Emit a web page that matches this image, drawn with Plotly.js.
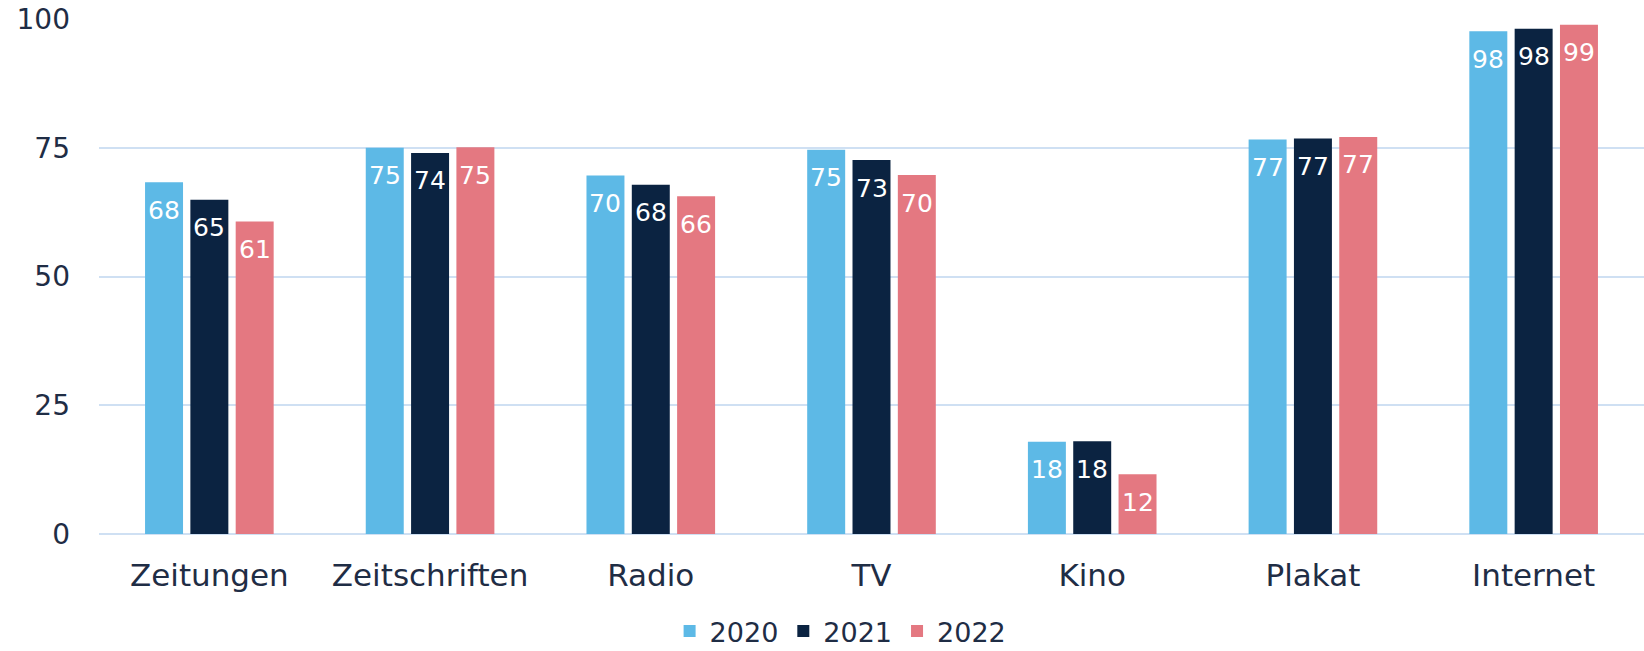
<!DOCTYPE html>
<html>
<head>
<meta charset="utf-8">
<script src="https://cdn.plot.ly/plotly-3.0.1.min.js"></script>
<style>
  html, body { margin: 0; padding: 0; background: #ffffff; }
  #chart { width: 1644px; height: 651px; }
</style>
</head>
<body>
<div id="chart"></div>
<script>
const categories = ["Zeitungen", "Zeitschriften", "Radio", "TV", "Kino", "Plakat", "Internet"];
const years = ["2020", "2021", "2022"];
const values2020 = [68.3, 75.0, 69.6, 74.6, 17.9, 76.6, 97.6];
const values2021 = [64.9, 74.0, 67.8, 72.6, 18.0, 76.8, 98.1];
const values2022 = [60.7, 75.1, 65.6, 69.7, 11.6, 77.1, 98.9];
const yTicks = [0, 25, 50, 75, 100];

const seriesValues = [values2020, values2021, values2022];
const colors = ["#5db9e6", "#0b2341", "#e47881"];
const textColor = "#1f2d45";
const fontFamily = "DejaVu Sans, sans-serif";

const W = 1644, H = 651;
const margin = { l: 99, r: 0, t: 19, b: 117, autoexpand: false };
const bargap = 0.384;
const bargroupgap = 0.162;

const plotW = W - margin.l - margin.r;
const slotPx = plotW / categories.length * (1 - bargap) / years.length;

const traces = years.map((yr, i) => ({
  type: "bar",
  name: yr,
  x: categories,
  y: seriesValues[i],
  marker: { color: colors[i], line: { width: 0 } },
  hoverinfo: "x+y+name"
}));

const annotations = [];
years.forEach((yr, i) => {
  seriesValues[i].forEach((v, j) => {
    annotations.push({
      x: categories[j],
      y: v,
      xref: "x",
      yref: "y",
      text: String(Math.round(v)),
      showarrow: false,
      xshift: (i - 1) * slotPx,
      yshift: -28,
      yanchor: "middle",
      xanchor: "center",
      font: { family: fontFamily, size: 25, color: "#ffffff" }
    });
  });
});

const layout = {
  width: W,
  height: H,
  margin: margin,
  paper_bgcolor: "#ffffff",
  plot_bgcolor: "#ffffff",
  barmode: "group",
  bargap: bargap,
  bargroupgap: bargroupgap,
  font: { family: fontFamily, color: textColor },
  showlegend: true,
  legend: {
    orientation: "h",
    xref: "paper",
    x: 0.48,
    xanchor: "center",
    yref: "container",
    y: 0.03,
    yanchor: "middle",
    font: { family: fontFamily, size: 27, color: textColor },
    traceorder: "normal"
  },
  xaxis: {
    type: "category",
    automargin: false,
    showgrid: false,
    showline: false,
    zeroline: false,
    ticks: "",
    tickfont: { family: fontFamily, size: 31, color: textColor },
    ticklabelstandoff: 20
  },
  yaxis: {
    range: [0, 100],
    automargin: false,
    tickvals: yTicks,
    ticktext: yTicks.map(String),
    showgrid: true,
    gridcolor: "#cfe0f3",
    gridwidth: 2,
    zeroline: true,
    zerolinecolor: "#cfe0f3",
    zerolinewidth: 2,
    showline: false,
    ticks: "",
    tickfont: { family: fontFamily, size: 28, color: textColor },
    ticklabelstandoff: 28
  },
  annotations: annotations
};

Plotly.newPlot("chart", traces, layout, { displayModeBar: false, staticPlot: true });
</script>
</body>
</html>
